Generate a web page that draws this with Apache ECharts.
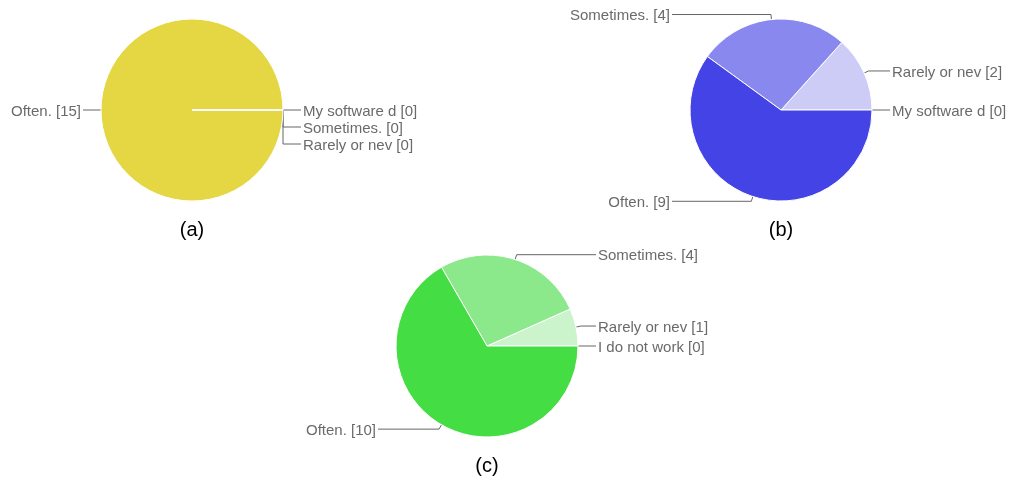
<!DOCTYPE html>
<html>
<head>
<meta charset="utf-8">
<title>pies</title>
<script src="https://cdn.jsdelivr.net/npm/echarts@6/dist/echarts.min.js"></script>
<style>
  html, body { margin: 0; padding: 0; background: #fff; }
  #main { width: 1014px; height: 480px; }
</style>
</head>
<body>
<div id="main"></div>
<script>
// 数据 (a 的 Often 放在最前，让零值扇区的白边画在上面)
var namesA = ['Often.', 'My software d', 'Sometimes.', 'Rarely or nev'];
var valuesA = [15, 0, 0, 0];
var namesB = ['My software d', 'Rarely or nev', 'Sometimes.', 'Often.'];
var valuesB = [0, 2, 4, 9];
var namesC = ['I do not work', 'Rarely or nev', 'Sometimes.', 'Often.'];
var valuesC = [0, 1, 4, 10];
var captions = ['(a)', '(b)', '(c)'];

// 布局
var centers = [[192, 110], [781, 110], [487, 346]];
var radius = 91;
var colorsA = ['#e5d644', '#e5d644', '#e5d644', '#e5d644'];
var colorsB = ['#ccccf6', '#ccccf6', '#8888ee', '#4444e6'];
var colorsC = ['#ccf4cc', '#ccf4cc', '#8be98b', '#44dd44'];
var fontName = 'Liberation Sans, Arial, sans-serif';

function toData(names, values, colors) {
    return names.map(function (n, i) {
        return { name: n, value: values[i], itemStyle: { color: colors[i] } };
    });
}

// 标签对齐成两列
function alignLabels(idx) {
    return function (params) {
        var c = centers[idx];
        var pts = params.labelLinePoints;
        var r = params.labelRect;
        var y = r.y + r.height / 2;
        var left = params.align === 'right';
        var col = left ? c[0] - radius - 20 : c[0] + radius + 20;
        var out = { x: col, y: y + 1.5, align: left ? 'right' : 'left', verticalAlign: 'middle' };
        if (pts) {
            out.labelLinePoints = [pts[0], [pts[1][0], y], [left ? col + 2 : col - 2, y]];
        }
        return out;
    };
}

function pieSeries(idx, names, values, colors) {
    return {
        type: 'pie',
        center: centers[idx],
        radius: radius,
        startAngle: 0,
        clockwise: false,
        animation: false,
        itemStyle: { borderColor: '#fff', borderWidth: 1 },
        label: {
            formatter: '{b} [{c}]',
            color: '#6a6a6a',
            fontSize: 15,
            lineHeight: 15,
            overflow: 'none',
            fontFamily: fontName
        },
        labelLine: {
            length: 5,
            length2: 14,
            lineStyle: { color: '#666', width: 1 }
        },
        labelLayout: alignLabels(idx),
        emphasis: { disabled: true },
        data: toData(names, values, colors)
    };
}

var myChart = echarts.init(document.getElementById('main'));
var option = {
    animation: false,
    title: captions.map(function (t, i) {
        return {
            text: t,
            left: centers[i][0],
            top: centers[i][1] + 110,
            padding: 0,
            textAlign: 'center',
            textStyle: {
                color: '#000',
                fontSize: 20,
                fontWeight: 'normal',
                fontFamily: fontName
            }
        };
    }),
    series: [
        pieSeries(0, namesA, valuesA, colorsA),
        pieSeries(1, namesB, valuesB, colorsB),
        pieSeries(2, namesC, valuesC, colorsC)
    ]
};
myChart.setOption(option);
</script>
</body>
</html>
